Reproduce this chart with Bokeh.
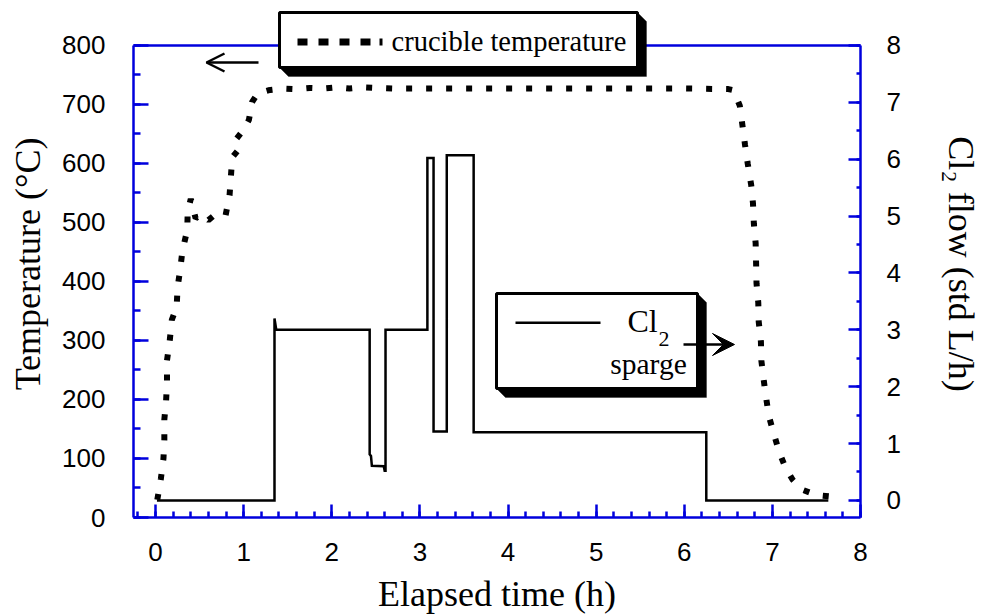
import math
from bokeh.plotting import figure
from bokeh.models import (Range1d, LinearAxis, SingleIntervalTicker, Label, Arrow,
                          OpenHead, VeeHead, BoxAnnotation, PolyAnnotation, Span)
from bokeh.embed import file_html
from bokeh.resources import INLINE

# ---------------- data ----------------
time_temp = [0.02, 0.06, 0.09, 0.10, 0.10, 0.12, 0.13, 0.13, 0.16, 0.185, 0.24, 0.25, 0.28,
             0.305, 0.36, 0.365, 0.40, 0.455, 0.515, 0.60, 0.68, 0.795, 0.84, 0.855, 0.87,
             0.95, 0.92, 1.0, 1.06, 1.095, 1.16, 1.28, 1.45, 1.6, 1.75, 1.9, 2.05, 2.2, 2.35,
             2.5, 2.7, 3.0, 3.5, 4.0, 4.5, 5.0, 5.5, 6.0, 6.5, 6.56, 6.63, 6.66, 6.69, 6.72,
             6.76, 6.78, 6.79, 6.81, 6.815, 6.82, 6.84, 6.845, 6.87, 6.875, 6.90, 6.93, 6.96,
             7.02, 7.08, 7.15, 7.23, 7.34, 7.5, 7.64]
temp_c = [30, 65, 100, 131, 166, 198, 229, 266, 298, 335, 357, 390, 420,
          452, 487, 518, 540, 507, 514, 504, 514, 512, 546, 577, 610,
          625, 642, 657, 674, 704, 719, 724, 727, 726, 728, 727, 729, 727, 729,
          728, 727, 727, 727, 727, 727, 727, 727, 727, 726, 724, 698, 665, 631, 600,
          563, 532, 498, 465, 433, 397, 364, 332, 298, 266, 235, 202, 172,
          140, 110, 84, 64, 47, 38, 36]

time_cl2 = [0.016, 1.35, 1.35, 1.37, 2.43, 2.43, 2.445, 2.455, 2.59, 2.60, 2.61, 2.61,
            3.085, 3.085, 3.155, 3.155, 3.305, 3.305, 3.61, 3.61, 6.25, 6.25, 7.635]
cl2_flow = [0.0, 0.0, 3.2, 3.0, 3.0, 0.81, 0.78, 0.61, 0.60, 0.52, 0.52, 3.0,
            3.0, 6.02, 6.02, 1.21, 1.21, 6.07, 6.07, 1.2, 1.2, 0.0, 0.0]

x_label = "Elapsed time (h)"
y_label = "Temperature (°C)"
y2_label = "Cl\u2082 flow (std L/h)"
legend_temp = "crucible temperature"

# ---------------- styling ----------------
BLUE = "#0000dd"
FL, FR, FB = 133, 860, 518     # frame left/right/bottom in page pixels
FT = 10                        # top of the (invisible) frame
AX_TOP = 45                    # page y of the top of the axes box
W, H = 993, 616
SERIF = "Liberation Serif"
SANS = "Liberation Sans"

T_MIN, T_MAX = 0, 800
F_MIN, F_MAX = -0.3, 8
t_px = (FB - AX_TOP) / (T_MAX - T_MIN)
f_px = (FB - AX_TOP) / (F_MAX - F_MIN)


def sx(X):
    return X - FL


def sy(Y):
    return FB - Y


p = figure(width=W, height=H, output_backend="svg", toolbar_location=None,
           x_range=Range1d(-0.25, 8),
           y_range=Range1d(T_MIN, T_MAX + (AX_TOP - FT) / t_px),
           min_border_left=FL, min_border_right=W - FR, min_border_top=FT,
           min_border_bottom=H - FB)
p.extra_y_ranges = {"cl2": Range1d(F_MIN, F_MAX + (AX_TOP - FT) / f_px)}
p.grid.visible = False
p.outline_line_color = None
p.background_fill_color = "white"
p.border_fill_color = "white"


def style_axis(ax, maj_in, min_in, standoff):
    ax.axis_line_color = BLUE
    ax.axis_line_width = 2.5
    ax.major_tick_line_color = BLUE
    ax.minor_tick_line_color = BLUE
    ax.major_tick_line_width = 2.5
    ax.minor_tick_line_width = 2.5
    ax.major_tick_in = maj_in
    ax.major_tick_out = 0
    ax.minor_tick_in = min_in
    ax.minor_tick_out = 0
    ax.major_label_text_font = SANS
    ax.major_label_text_font_size = "26px"
    ax.major_label_text_color = "black"
    ax.major_label_standoff = standoff
    ax.axis_label_text_font = SERIF
    ax.axis_label_text_font_size = "36px"
    ax.axis_label_text_font_style = "normal"
    ax.axis_label_text_color = "black"


xa = p.xaxis[0]
xa.ticker = SingleIntervalTicker(interval=1, num_minor_ticks=5)
style_axis(xa, 13, 6, 25)
xa.axis_label = x_label
xa.axis_label_standoff = 10

ya = p.yaxis[0]
ya.ticker = SingleIntervalTicker(interval=100, num_minor_ticks=2)
style_axis(ya, 15, 7, 28)
ya.bounds = (T_MIN, T_MAX)
ya.axis_label = y_label
ya.axis_label_standoff = 11

ra = LinearAxis(y_range_name="cl2")
ra.ticker = SingleIntervalTicker(interval=1, num_minor_ticks=2)
style_axis(ra, 12, 4, 26)
ra.bounds = (F_MIN, F_MAX)
ra.axis_label = y2_label
ra.axis_label_standoff = 37
p.add_layout(ra, "right")

# top border of the axes box
p.add_layout(Span(location=T_MAX, dimension="width", line_color=BLUE, line_width=2.5))

# ---------------- data lines ----------------
p.line(time_cl2, cl2_flow, y_range_name="cl2", line_color="black", line_width=2.5,
       line_join="miter")
p.line(time_temp, temp_c, line_color="black", line_width=6, line_dash="6 14",
       line_cap="butt")


# ---------------- legend boxes ----------------
def shadow_box(L, T, R, B, d):
    p.add_layout(PolyAnnotation(
        xs=[sx(R), sx(R + d), sx(R + d), sx(L + d), sx(L), sx(R)],
        ys=[sy(T), sy(T + d), sy(B + d), sy(B + d), sy(B), sy(B)],
        xs_units="screen", ys_units="screen",
        fill_color="black", fill_alpha=1.0, line_color="black", line_width=1))
    p.add_layout(BoxAnnotation(left=sx(L), right=sx(R), top=sy(T), bottom=sy(B),
                               left_units="screen", right_units="screen",
                               top_units="screen", bottom_units="screen",
                               fill_color="white", fill_alpha=1.0,
                               line_color="black", line_width=3, line_alpha=1.0))


def rect(L, T, R, B):
    p.add_layout(BoxAnnotation(left=sx(L), right=sx(R), top=sy(T), bottom=sy(B),
                               left_units="screen", right_units="screen",
                               top_units="screen", bottom_units="screen",
                               fill_color="black", fill_alpha=1.0,
                               line_color="black", line_width=0, line_alpha=0))


# top legend (crucible temperature)
shadow_box(279, 13, 637, 68, 9)
for cx in (302, 323, 344, 365):
    rect(cx - 5, 39, cx + 5, 46)
rect(379, 39, 382, 46)
p.add_layout(Label(x=sx(391), y=sy(42), x_units="screen", y_units="screen",
                   text=legend_temp, text_align="left", text_baseline="middle",
                   text_font=SERIF, text_font_size="28.5px", text_color="black"))

# Cl2 legend
shadow_box(496, 294, 697, 389, 9)
rect(515, 322, 600, 324.5)
p.add_layout(Label(x=sx(627), y=sy(321), x_units="screen", y_units="screen",
                   text="Cl", text_align="left", text_baseline="middle",
                   text_font=SERIF, text_font_size="32px", text_color="black"))
p.add_layout(Label(x=sx(658), y=sy(339), x_units="screen", y_units="screen",
                   text="2", text_align="left", text_baseline="middle",
                   text_font=SERIF, text_font_size="22px", text_color="black"))
p.add_layout(Label(x=sx(648), y=sy(364), x_units="screen", y_units="screen",
                   text="sparge", text_align="center", text_baseline="middle",
                   text_font=SERIF, text_font_size="29.5px", text_color="black"))

# arrows
p.add_layout(Arrow(x_start=sx(258), y_start=sy(63), x_end=sx(206), y_end=sy(63),
                   start_units="screen", end_units="screen",
                   line_color="black", line_width=2.5,
                   end=OpenHead(size=18, line_color="black", line_width=2.5)))
p.add_layout(Arrow(x_start=sx(683), y_start=sy(345), x_end=sx(734), y_end=sy(345),
                   start_units="screen", end_units="screen",
                   line_color="black", line_width=2.5,
                   end=VeeHead(size=22, fill_color="black", line_color="black",
                               line_width=1)))

open("out.html", "w").write(file_html(p, INLINE))
